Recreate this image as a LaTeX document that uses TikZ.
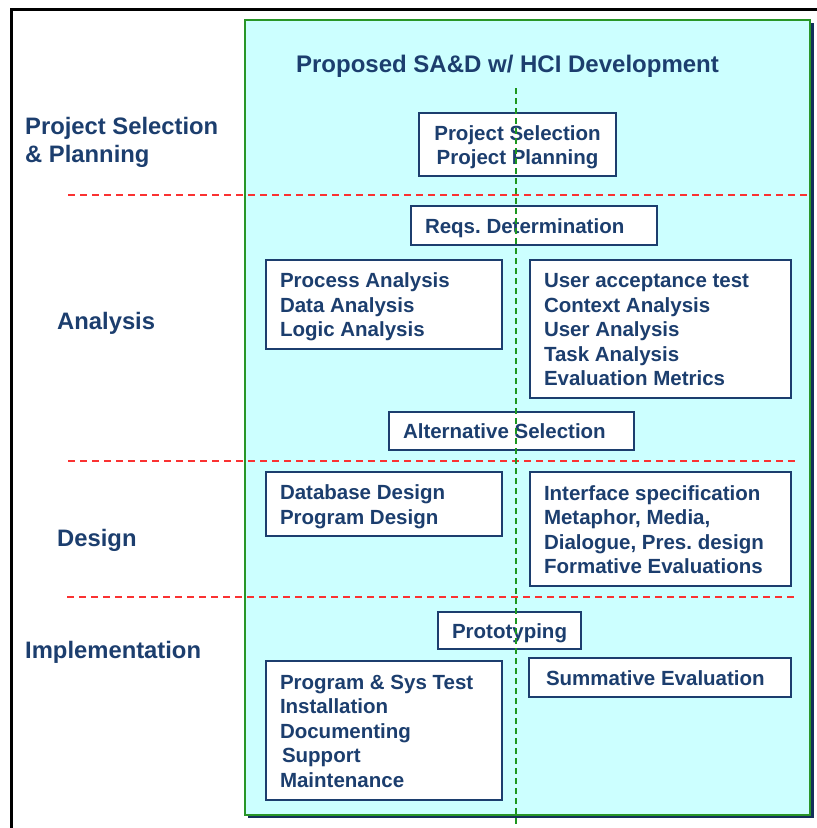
\documentclass[tikz,border=0pt]{standalone}
\usepackage{fontspec}
\setmainfont{Liberation Sans}
\frenchspacing
\definecolor{navy}{RGB}{28,62,110}
\definecolor{shadownavy}{RGB}{20,48,90}
\definecolor{panelcyan}{RGB}{204,255,255}
\definecolor{panelgreen}{RGB}{40,150,40}
\definecolor{splitgreen}{RGB}{30,150,30}
\definecolor{phasered}{RGB}{250,50,50}
% left-aligned list of activities, set inside a box of the given text width
\newcommand\actlines[2]{\raisebox{-3pt}[\height][\depth]{\makebox[#1][l]{\begin{tabular}{@{}l@{}}#2\end{tabular}}}}
\newcommand\actcentre[1]{\raisebox{-3pt}[\height][\depth]{\begin{tabular}{@{}c@{}}#1\end{tabular}}}
\begin{document}
\begin{tikzpicture}[x=1pt,y=-1pt,
  txt/.style={font=\fontsize{20.5}{24.5}\selectfont\bfseries, text=navy},
  box/.style={txt, draw=navy, line width=1.8pt, fill=white, inner sep=0pt},
  phaselabel/.style={font=\fontsize{23.8}{28}\selectfont\bfseries, text=navy, inner sep=0pt, align=left},
  phaseline/.style={phasered, line width=1.6pt, dash pattern=on 7pt off 5pt},
  splitline/.style={splitgreen, line width=2pt, dash pattern=on 6pt off 4pt}]
\useasboundingbox (0,0) rectangle (817,828);
% outer frame (top and left edges)
\draw[black, line width=3pt] (11,828) -- (11,9) -- (817,9);
% panel with its shadow
\fill[shadownavy] (248,23) rectangle (814,818);
\draw[panelgreen, line width=2pt, fill=panelcyan] (245,20) rectangle (810,815);
% title
\node[font=\fontsize{24}{28}\selectfont\bfseries, text=navy, anchor=base] (title) at (507.5,72) {Proposed SA\&D w/ HCI Development};
% phase labels
\node[phaselabel, anchor=north west] (lplan) at (25,117) {Project Selection\\\& Planning};
\node[phaselabel, anchor=base west] (lana) at (57,329) {Analysis};
\node[phaselabel, anchor=base west] (ldes) at (57,546) {Design};
\node[phaselabel, anchor=base west] (limp) at (25,658) {Implementation};
% phase separators
\coordinate (s1a) at (68,195); \coordinate (s1b) at (808,195);
\coordinate (s2a) at (68,461); \coordinate (s2b) at (795,461);
\coordinate (s3a) at (67,597); \coordinate (s3b) at (795,597);
\draw[phaseline] (s1a) -- (s1b);
\draw[phaseline] (s2a) -- (s2b);
\draw[phaseline] (s3a) -- (s3b);
% activity boxes
\node[box, minimum width=197pt, minimum height=63pt] (plan) at (517.5,144.5) {\actcentre{Project Selection\\Project Planning}};
\node[box, minimum width=246pt, minimum height=39pt] (reqs) at (534,225.5) {\actlines{218pt}{Reqs. Determination}};
\node[box, minimum width=236pt, minimum height=89pt] (proc) at (384,304.5) {\actlines{208pt}{Process Analysis\\Data Analysis\\Logic Analysis}};
\node[box, minimum width=261pt, minimum height=138pt] (user) at (660.5,329) {\actlines{233pt}{User acceptance test\\Context Analysis\\User Analysis\\Task Analysis\\Evaluation Metrics}};
\node[box, minimum width=245pt, minimum height=38pt] (alt) at (511.5,431) {\actlines{217pt}{Alternative Selection}};
\node[box, minimum width=236pt, minimum height=64pt] (db) at (384,504) {\actlines{208pt}{Database Design\\Program Design}};
\node[box, minimum width=261pt, minimum height=114pt] (ui) at (660.5,529) {\actlines{233pt}{Interface specification\\Metaphor, Media,\\Dialogue, Pres. design\\Formative Evaluations}};
\node[box, minimum width=143pt, minimum height=37pt] (proto) at (509.5,630.5) {\actlines{115pt}{Prototyping}};
\node[box, minimum width=262pt, minimum height=39pt] (summ) at (660,677.5) {\actlines{234pt}{\hspace*{3pt}Summative Evaluation}};
\node[box, minimum width=236pt, minimum height=139pt] (impl) at (384,730.5) {\actlines{208pt}{Program \& Sys Test\\Installation\\Documenting\\\hspace*{2pt}Support\\Maintenance}};
% HCI / SA&D split
\coordinate (splittop) at (516,88);
\coordinate (splitbot) at (516,828);
\draw[splitline] (splittop) -- (splitbot);
\end{tikzpicture}
\end{document}
